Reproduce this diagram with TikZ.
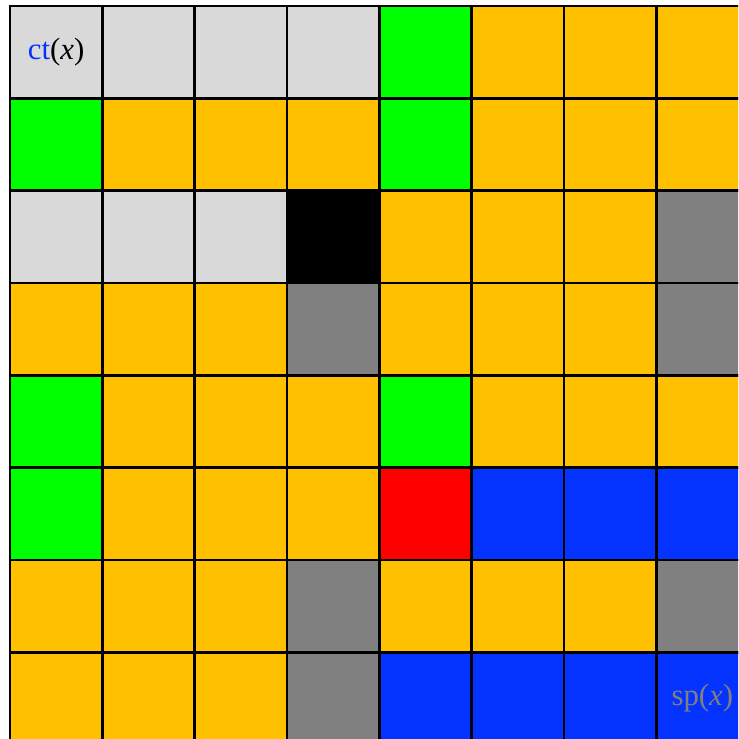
\documentclass[tikz,border=0pt]{standalone}
\usepackage{fontspec}
\setmainfont{Liberation Serif}
\usepackage{tikz}
\usetikzlibrary{positioning}
\definecolor{lg}{HTML}{D9D9D9}
\definecolor{gn}{HTML}{00FF00}
\definecolor{or}{HTML}{FFC000}
\definecolor{bk}{HTML}{000000}
\definecolor{gy}{HTML}{808080}
\definecolor{rd}{HTML}{FF0000}
\definecolor{bl}{HTML}{0433FF}
\tikzset{
    cell/.style={rectangle, draw=black, line width=0.8pt, minimum size=1cm, inner sep=0pt, outer sep=0pt},
    tag/.style={font=\fontsize{9.5}{11}\selectfont, inner sep=0pt}
}

\begin{document}
\begin{tikzpicture}
    \clip (-0.108,-7.94) rectangle (7.887,0.065);
    \foreach \row [count=\r from 0] in {
        {lg,lg,lg,lg,gn,or,or,or},
        {gn,or,or,or,gn,or,or,or},
        {lg,lg,lg,bk,or,or,or,gy},
        {or,or,or,gy,or,or,or,gy},
        {gn,or,or,or,gn,or,or,or},
        {gn,or,or,or,rd,bl,bl,bl},
        {or,or,or,gy,or,or,or,gy},
        {or,or,or,gy,bl,bl,bl,bl}} {
        \foreach \col [count=\c from 0] in \row {
            \node (c\r\c) [cell, fill=\col] at (\c+0.5, -\r-0.5) {};
        }
    }

    \node (ct) [tag] at (c00.center) {\textcolor{bl}{ct}(\textit{x})};
    \node (sp) [tag, text=gy] at (c77.center) {sp(\textit{x})};
\end{tikzpicture}
\end{document}
